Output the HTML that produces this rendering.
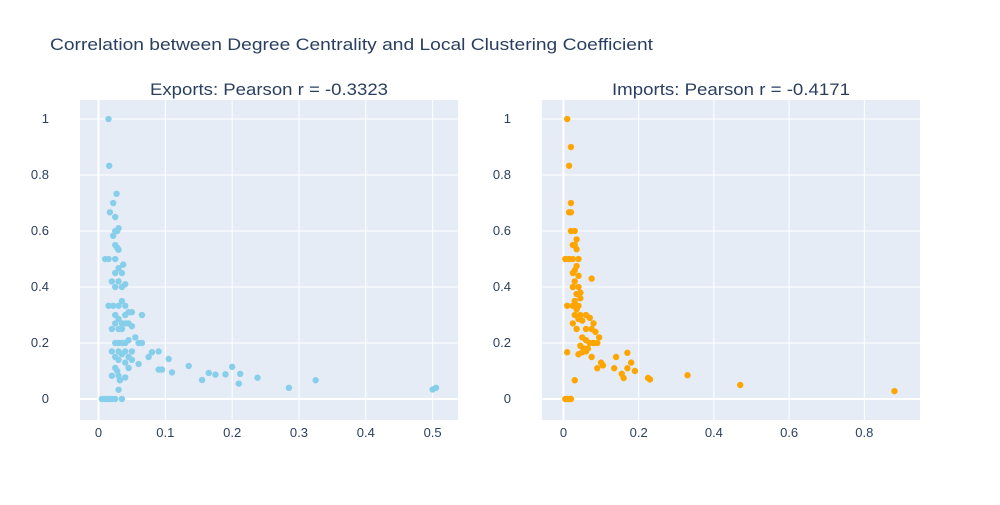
<!DOCTYPE html>
<html><head><meta charset="utf-8"><style>
body{margin:0;background:#fff;font-family:"Liberation Sans",sans-serif}
</style></head><body>
<svg width="1000" height="500" xmlns="http://www.w3.org/2000/svg" font-family="Liberation Sans, sans-serif">
<rect width="1000" height="500" fill="#fff"/>
<text x="50" y="50" font-size="17" textLength="603" lengthAdjust="spacingAndGlyphs" fill="#2a3f5f">Correlation between Degree Centrality and Local Clustering Coefficient</text>
<g id="p1"></g><g id="p2"></g>
</svg>
<script>
const expX=[0.015,0.016,0.027,0.022,0.017,0.025,0.03,0.028,0.025,0.022,0.025,0.03,0.028,0.015,0.01,0.025,0.03,0.037,0.035,0.025,0.02,0.03,0.04,0.025,0.035,0.015,0.022,0.03,0.035,0.04,0.025,0.04,0.045,0.05,0.03,0.035,0.025,0.04,0.045,0.05,0.03,0.035,0.02,0.055,0.06,0.045,0.035,0.025,0.03,0.04,0.02,0.03,0.04,0.05,0.035,0.025,0.045,0.05,0.03,0.04,0.06,0.075,0.08,0.09,0.105,0.09,0.095,0.11,0.135,0.155,0.165,0.175,0.19,0.2,0.21,0.212,0.238,0.285,0.325,0.5,0.505,0.025,0.028,0.03,0.032,0.04,0.03,0.005,0.01,0.015,0.02,0.025,0.035,0.045,0.02,0.065,0.065];
const expY=[1.0,0.833,0.733,0.7,0.667,0.65,0.61,0.6,0.6,0.583,0.55,0.533,0.54,0.5,0.5,0.5,0.467,0.48,0.45,0.45,0.42,0.42,0.41,0.4,0.4,0.333,0.333,0.333,0.35,0.333,0.3,0.3,0.31,0.31,0.286,0.27,0.27,0.27,0.27,0.26,0.25,0.25,0.25,0.22,0.2,0.21,0.2,0.2,0.2,0.2,0.17,0.17,0.17,0.17,0.16,0.15,0.15,0.14,0.14,0.13,0.125,0.15,0.167,0.17,0.143,0.105,0.105,0.095,0.118,0.068,0.093,0.087,0.088,0.115,0.055,0.09,0.076,0.04,0.067,0.034,0.04,0.111,0.1,0.083,0.067,0.077,0.033,0,0,0,0,0,0,0.111,0.083,0.2,0.3];
const impX=[0.01,0.02,0.015,0.02,0.02,0.015,0.02,0.03,0.035,0.03,0.025,0.035,0.04,0.005,0.015,0.025,0.035,0.03,0.025,0.04,0.03,0.025,0.04,0.045,0.035,0.075,0.03,0.045,0.025,0.01,0.04,0.035,0.045,0.03,0.06,0.04,0.025,0.05,0.07,0.035,0.06,0.08,0.075,0.085,0.05,0.06,0.07,0.08,0.095,0.045,0.055,0.065,0.075,0.09,0.05,0.04,0.06,0.01,0.1,0.105,0.09,0.14,0.155,0.16,0.17,0.18,0.19,0.17,0.135,0.225,0.23,0.33,0.47,0.88,0.03,0.005,0.01,0.015,0.02];
const impY=[1.0,0.9,0.833,0.7,0.667,0.667,0.6,0.6,0.57,0.55,0.55,0.535,0.5,0.5,0.5,0.5,0.475,0.46,0.45,0.44,0.42,0.4,0.4,0.38,0.375,0.43,0.35,0.36,0.333,0.333,0.333,0.32,0.3,0.3,0.3,0.286,0.27,0.28,0.29,0.25,0.25,0.27,0.25,0.24,0.22,0.21,0.2,0.2,0.22,0.19,0.18,0.18,0.15,0.2,0.167,0.16,0.17,0.167,0.13,0.12,0.11,0.15,0.09,0.075,0.165,0.13,0.1,0.11,0.11,0.075,0.07,0.085,0.05,0.028,0.067,0,0,0,0];
const yTicks=[0,0.2,0.4,0.6,0.8,1];
const xTicks1=[0,0.1,0.2,0.3,0.4,0.5];
const xTicks2=[0,0.2,0.4,0.6,0.8];
const NS="http://www.w3.org/2000/svg";
function mk(t,a,p){const e=document.createElementNS(NS,t);for(const k in a)e.setAttribute(k,a[k]);p.appendChild(e);return e;}
function panel(g,L,R,xmin,xmax,xs,ys,xt,color,title){
 const T=100,B=420,ymin=-0.075,ymax=1.068;
 const sx=v=>L+(v-xmin)/(xmax-xmin)*(R-L), sy=v=>B-(v-ymin)/(ymax-ymin)*(B-T);
 const bg=mk('rect',{x:L,y:T,width:R-L,height:B-T,fill:'#e5ecf6'},g);
 
 
 xt.forEach(v=>{const l=mk('line',{x1:sx(v),x2:sx(v),y1:T,y2:B,stroke:'#fff','stroke-width':v===0?2:1},g);
  
  const t=mk('text',{x:sx(v),y:B+17,'font-size':13,fill:'#2a3f5f','text-anchor':'middle'},g);t.textContent=String(v);
  });
 yTicks.forEach(v=>{const l=mk('line',{x1:L,x2:R,y1:sy(v),y2:sy(v),stroke:'#fff','stroke-width':v===0?2:1},g);
  
  const t=mk('text',{x:L-31,y:sy(v)+4,'font-size':13,fill:'#2a3f5f','text-anchor':'end'},g);t.textContent=String(v);
  });
 const tt=mk('text',{x:(L+R)/2,y:95,'font-size':17,textLength:238,lengthAdjust:'spacingAndGlyphs',fill:'#2a3f5f','text-anchor':'middle'},g);tt.textContent=title;
 
 xs.forEach((v,i)=>{const c=mk('circle',{cx:sx(v),cy:sy(ys[i]),r:3.2,fill:color},g);
  });
}
panel(document.getElementById('p1'),80,458,-0.0277,0.538,expX,expY,xTicks1,'#87ceeb','Exports: Pearson r = -0.3323');
panel(document.getElementById('p2'),542,920,-0.057,0.948,impX,impY,xTicks2,'#ffa500','Imports: Pearson r = -0.4171');
</script>
</body></html>
